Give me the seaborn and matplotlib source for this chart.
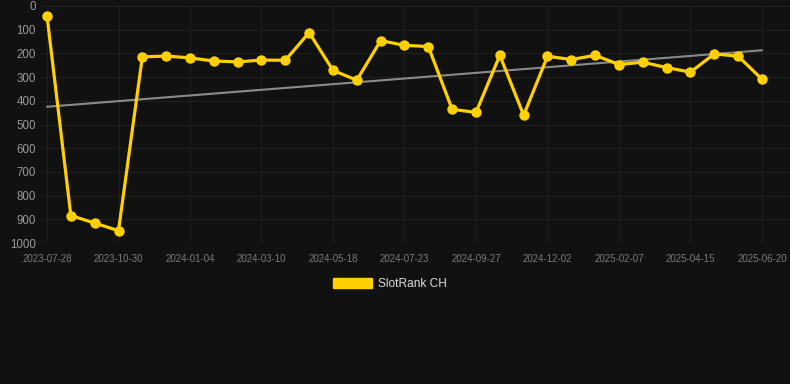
import numpy as np
import pandas as pd
import matplotlib
matplotlib.use("Agg")
import matplotlib.pyplot as plt
from matplotlib.patches import Patch
import seaborn as sns

#%%
dates = ["2023-07-28", "2023-08-28", "2023-09-28", "2023-10-30", "2023-11-21",
         "2023-12-13", "2024-01-04", "2024-01-26", "2024-02-17", "2024-03-10",
         "2024-04-02", "2024-04-25", "2024-05-18", "2024-06-09", "2024-07-01",
         "2024-07-23", "2024-08-14", "2024-09-05", "2024-09-27", "2024-10-19",
         "2024-11-10", "2024-12-02", "2024-12-24", "2025-01-15", "2025-02-07",
         "2025-03-01", "2025-03-23", "2025-04-15", "2025-05-07", "2025-05-29",
         "2025-06-20"]
rank = [41, 884, 916, 948, 215, 211, 219, 232, 236, 228,
        229, 112, 272, 313, 146, 166, 171, 436, 449, 208,
        461, 212, 226, 208, 247, 237, 260, 279, 202, 212,
        309]
series_name = "SlotRank CH"

bg = "#111111"
gold = "#FFD000"

#%%
sns.set_theme(style="dark", rc={
    "figure.facecolor": bg,
    "axes.facecolor": bg,
    "axes.edgecolor": bg,
    "grid.color": "#1f1f1f",
    "grid.linewidth": 0.8,
})
plt.rcParams["font.family"] = ["Liberation Sans", "DejaVu Sans"]

df = pd.DataFrame({"idx": np.arange(len(dates)), "date": dates, "rank": rank})

fig = plt.figure(figsize=(7.9, 3.84), dpi=100)
ax = fig.add_axes([40 / 790, 1 - 243 / 384, 750 / 790, 237 / 384])

# trend line
coef = np.polyfit(df["idx"], df["rank"], 1)
ax.plot(df["idx"], np.polyval(coef, df["idx"]), color="#8a8a8a", lw=1.5, zorder=2)

sns.lineplot(data=df, x="idx", y="rank", ax=ax, color=gold, lw=2.3,
             marker="o", markersize=7.5, markeredgewidth=0, zorder=3)

ax.set_xlim(-7 / 23.83, 30 + 28 / 23.83)
ax.set_ylim(1000, 0)
ax.set_yticks(range(0, 1001, 100))
tick_idx = list(range(0, len(dates), 3))
ax.set_xticks(tick_idx)
ax.set_xticklabels([dates[i] for i in tick_idx])
ax.grid(True, axis="both")
ax.tick_params(axis="y", colors="#9a9a9a", labelsize=8.3, length=0, pad=3)
ax.tick_params(axis="x", colors="#7a7a7a", labelsize=7, length=0, pad=8)
ax.set_xlabel("")
ax.set_ylabel("")
for s in ax.spines.values():
    s.set_visible(False)

fig.legend(handles=[Patch(facecolor=gold, edgecolor=gold, label=series_name)],
           loc="center", bbox_to_anchor=(390 / 790, 1 - 284 / 384),
           frameon=False, fontsize=8.6, labelcolor="#dddddd",
           handlelength=3.3, handleheight=0.9, handletextpad=0.5)

fig.savefig("out.png", dpi=100, facecolor=bg)
